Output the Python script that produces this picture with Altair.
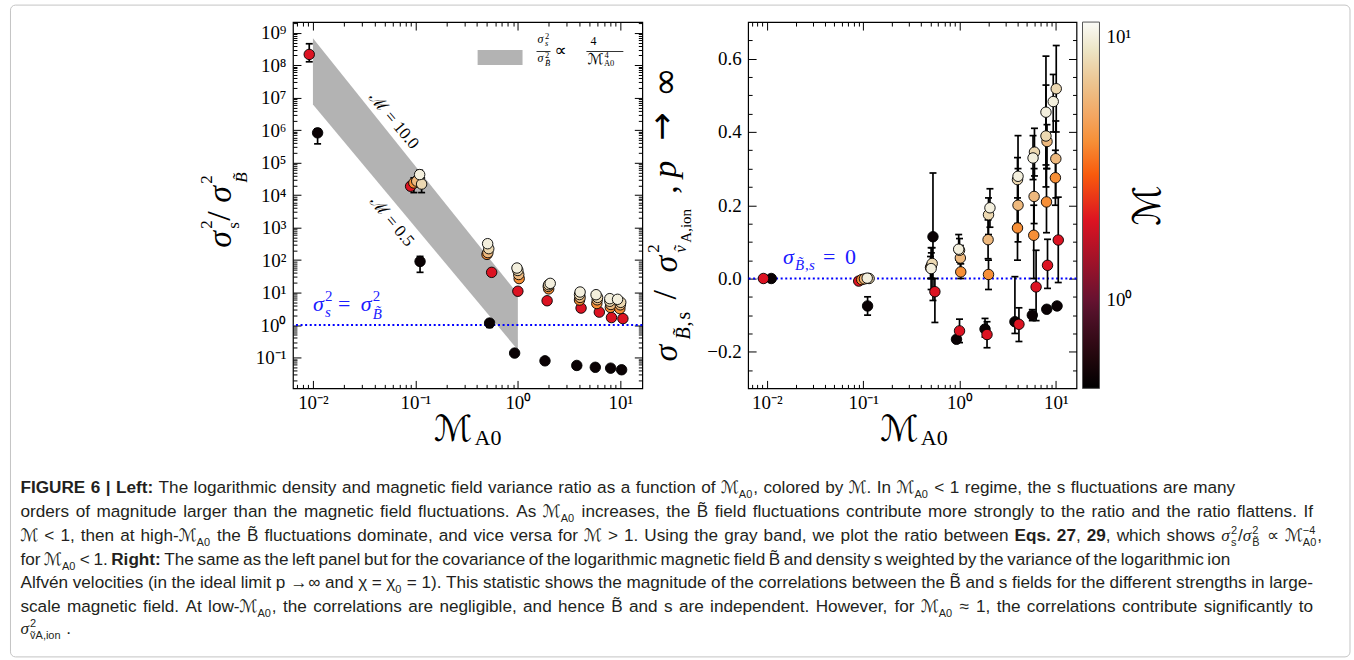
import altair as alt
import pandas as pd

SERIF = "Liberation Serif"
SCRIPT = "DejaVu Serif, DejaVu Sans"
SANS = "Liberation Sans"
BLUE = "#1a1aff"
INK = "#231f20"

# ---------------------------------------------------------------- data
# turbulent Mach number of each simulation series
mach = [0.5, 2, 4, 6, 8, 10]

# large-scale Alfven Mach number M_A0 of every point, one list per series
ma0_M05 = [0.0111, 0.111, 0.53, 0.93, 1.84, 3.76, 5.7, 8.05, 10.3]
ma0_M2 = [0.0092, 0.0898, 0.555, 1.0, 1.93, 4.14, 6.24, 8.2, 10.6]
ma0_M4 = [None, 0.0966, 0.50, 1.03, 2.0, 4.0, 5.9, 8.0, 9.9]
ma0_M6 = [None, 0.103, 0.51, 1.02, 1.98, 4.05, 5.95, 8.1, 10.0]
ma0_M8 = [None, 0.115, 0.52, 1.0, 2.0, 4.0, 6.0, 7.9, 10.1]
ma0_M10 = [None, 0.11, 0.507, 0.98, 2.07, 4.05, 5.8, 7.9, 9.4]

# left panel: sigma_s^2 / sigma_B^2
ratio_M05 = [8.3e5, 91, 1.15, 0.137, 0.079, 0.057, 0.050, 0.047, 0.042]
ratio_M2 = [2.16e8, 1.88e4, 42, 11, 5.6, 3.33, 2.5, 1.7, 1.58]
ratio_M4 = [None, 2.38e4, 150, 27, 13, 5.9, 4.6, 3.5, 3.2]
ratio_M6 = [None, 2.7e4, 170, 36, 15.5, 7.1, 6.0, 4.3, 4.2]
ratio_M8 = [None, 2.2e4, 225, 48, 17.5, 8.7, 7.1, 5.4, 5.0]
ratio_M10 = [None, 4.3e4, 320, 57, 19.2, 10.4, 8.6, 6.5, 6.2]
ratio_lo_M05 = [3.8e5, 42, 0.85, None, None, None, None, None, None]
ratio_hi_M05 = [1.1e6, 130, 1.45, None, None, None, None, None, None]
ratio_lo_M2 = [1.28e8, 1.5e4, None, None, None, None, None, None, None]
ratio_hi_M2 = [4.6e8, 2.4e4, None, None, None, None, None, None, None]
ratio_lo_M4 = [None, 1.2e4, None, None, None, None, None, None, None]
ratio_hi_M4 = [None, 3.4e4, None, None, None, None, None, None, None]
ratio_lo_M6 = [None, 1.8e4, None, None, None, None, None, None, None]
ratio_hi_M6 = [None, 3.6e4, None, None, None, None, None, None, None]
ratio_lo_M8 = [None, 1.2e4, None, None, None, None, None, None, None]
ratio_hi_M8 = [None, 3.4e4, None, None, None, None, None, None, None]
ratio_lo_M10 = [None, 3.0e4, None, None, None, None, None, None, None]
ratio_hi_M10 = [None, 5.8e4, None, None, None, None, None, None, None]

# right panel: sigma_{B,s} / sigma^2_{vA,ion}
cov_M05 = [0.0, -0.075, 0.114, -0.166, -0.138, -0.118, -0.1, -0.084, -0.075]
cov_lo_M05 = [None, -0.1, -0.06, -0.17, -0.16, -0.15, -0.115, -0.09, -0.08]
cov_hi_M05 = [None, -0.05, 0.288, -0.16, -0.109, 0.005, -0.085, -0.075, -0.07]
cov_M2 = [0.0, -0.007, -0.036, -0.143, -0.153, -0.125, -0.023, 0.036, 0.105]
cov_lo_M2 = [None, -0.012, -0.12, -0.175, -0.189, -0.172, -0.115, -0.027, -0.011]
cov_hi_M2 = [None, -0.002, 0.0, -0.111, -0.118, -0.08, 0.077, 0.107, 0.222]
cov_M4 = [None, -0.003, 0.03, 0.018, 0.011, 0.138, 0.118, 0.209, 0.275]
cov_lo_M4 = [None, None, 0.0, 0.0, -0.03, 0.05, 0.0, 0.125, 0.2]
cov_hi_M4 = [None, None, 0.06, 0.04, 0.05, 0.22, 0.2, 0.3, 0.35]
cov_M6 = [None, -0.001, 0.035, 0.056, 0.106, 0.2, 0.224, 0.374, 0.327]
cov_lo_M6 = [None, None, 0.0, 0.02, 0.054, 0.1, 0.15, 0.3, 0.22]
cov_hi_M6 = [None, None, 0.07, 0.09, 0.16, 0.3, 0.3, 0.42, 0.43]
cov_M8 = [None, 0.0, 0.041, 0.077, 0.174, 0.27, 0.345, 0.389, 0.518]
cov_lo_M8 = [None, None, 0.0, 0.045, 0.12, 0.15, 0.28, 0.25, 0.4]
cov_hi_M8 = [None, None, 0.084, 0.109, 0.22, 0.33, 0.41, 0.528, 0.636]
cov_M10 = [None, 0.001, 0.027, 0.08, 0.193, 0.279, 0.329, 0.454, 0.483]
cov_lo_M10 = [None, None, -0.03, 0.05, 0.14, 0.2, 0.27, 0.31, 0.4]
cov_hi_M10 = [None, None, 0.084, 0.12, 0.245, 0.39, 0.39, 0.607, 0.557]

# gray band sigma_s^2/sigma_B^2 ~ 4/M_A0^4 for M between 0.5 and 10
band_ma0 = [0.01, 1.0]
band_lo = [6.2e6, 0.17]
band_hi = [6.8e8, 9.0]

# colour map of the colour bar (M values and colours)
cmap_m = [0.46, 0.634, 0.875, 1.207, 1.665, 2.296, 2.98, 3.73, 4.97, 6.63, 8.85, 11.4]
cmap_c = ["#000000", "#28080f", "#4f1028", "#88163c", "#cc0e2c", "#e8161a",
          "#f85a0c", "#f7882a", "#f3a560", "#ecc38e", "#ece4c4", "#fbfbf7"]

# caption text (** toggles bold, _{..} subscript, ^{..} superscript)
caption_lines = [
    "**FIGURE 6 | Left:** The logarithmic density and magnetic field variance ratio as a function of "
    "ℳ_{A0}, colored by ℳ. In ℳ_{A0} < 1 regime, the s fluctuations are many",
    "orders of magnitude larger than the magnetic field fluctuations. As ℳ_{A0} increases, the B̃ field "
    "fluctuations contribute more strongly to the ratio and the ratio flattens. If",
    "ℳ < 1, then at high-ℳ_{A0} the B̃ fluctuations dominate, and vice versa for ℳ > 1. Using the gray "
    "band, we plot the ratio between **Eqs. 27**, **29**, which shows σ^{2}_{s}/σ^{2}_{B̃} ∝ ℳ^{−4}_{A0},",
    "for ℳ_{A0} < 1. **Right:** The same as the left panel but for the covariance of the logarithmic "
    "magnetic field B̃ and density s weighted by the variance of the logarithmic ion",
    "Alfvén velocities (in the ideal limit p → ∞ and χ = χ_{0} = 1). This statistic shows the magnitude "
    "of the correlations between the B̃ and s fields for the different strengths in large-",
    "scale magnetic field. At low-ℳ_{A0}, the correlations are negligible, and hence B̃ and s are "
    "independent. However, for ℳ_{A0} ≈ 1, the correlations contribute significantly to",
    "σ^{2}_{ṽA,ion} .",
]

# ---------------------------------------------------------------- tables
series = [
    (mach[0], ma0_M05, ratio_M05, ratio_lo_M05, ratio_hi_M05, cov_M05, cov_lo_M05, cov_hi_M05),
    (mach[1], ma0_M2, ratio_M2, ratio_lo_M2, ratio_hi_M2, cov_M2, cov_lo_M2, cov_hi_M2),
    (mach[2], ma0_M4, ratio_M4, ratio_lo_M4, ratio_hi_M4, cov_M4, cov_lo_M4, cov_hi_M4),
    (mach[3], ma0_M6, ratio_M6, ratio_lo_M6, ratio_hi_M6, cov_M6, cov_lo_M6, cov_hi_M6),
    (mach[4], ma0_M8, ratio_M8, ratio_lo_M8, ratio_hi_M8, cov_M8, cov_lo_M8, cov_hi_M8),
    (mach[5], ma0_M10, ratio_M10, ratio_lo_M10, ratio_hi_M10, cov_M10, cov_lo_M10, cov_hi_M10),
]
rows_l, rows_r = [], []
for m, xs_, r, rlo, rhi, c, clo, chi in series:
    for i, x in enumerate(xs_):
        if x is None:
            continue
        rows_l.append(dict(MA0=x, M=m, v=r[i],
                           lo=r[i] if rlo[i] is None else rlo[i],
                           hi=r[i] if rhi[i] is None else rhi[i]))
        rows_r.append(dict(MA0=x, M=m, v=c[i],
                           lo=c[i] if clo[i] is None else clo[i],
                           hi=c[i] if chi[i] is None else chi[i]))
dl = pd.DataFrame(rows_l).sort_values("M", kind="stable")
dr = pd.DataFrame(rows_r).sort_values("M", kind="stable")
dband = pd.DataFrame({"MA0": band_ma0, "lo": band_lo, "hi": band_hi})
one = pd.DataFrame({"k": [0]})

# ---------------------------------------------------------------- scales
XS = alt.Scale(type="log", domain=[0.00638, 16.4], nice=False)
YL = alt.Scale(type="log", domain=[0.0112, 2.14e9], nice=False)
YR = alt.Scale(type="linear", domain=[-0.3, 0.7], nice=False, zero=False)
CS = alt.Scale(type="log", domain=cmap_m, range=cmap_c, interpolate="rgb")

x_major = [0.01, 0.1, 1, 10]
x_minor = [k * 10.0 ** e for e in range(-3, 2) for k in range(2, 10)
           if 0.0064 < k * 10.0 ** e < 16.4]
yl_major = [10.0 ** e for e in range(-1, 10)]
yl_minor = [k * 10.0 ** e for e in range(-2, 10) for k in range(2, 10)
            if 0.0113 < k * 10.0 ** e < 2.1e9]
yr_major = [-0.2, 0.0, 0.2, 0.4, 0.6]
yr_minor = [-0.25, -0.15, -0.1, -0.05, 0.05, 0.1, 0.15, 0.25, 0.3, 0.35, 0.45, 0.5, 0.55, 0.65]

XEXPR = "['10⁻²','10⁻¹','10⁰','10¹'][round(log(datum.value)/LN10)+2]"
YEXPR = ("['10⁻¹','10⁰','10¹','10²','10³','10⁴','10⁵','10⁶','10⁷','10⁸','10⁹']"
         "[round(log(datum.value)/LN10)+1]")


def axis_layers(df, ys, ymaj, ymin, ylab):
    base = dict(domain=False, grid=False, title=None, tickColor="black", tickWidth=1)
    lab = dict(labelFont=SERIF, labelFontSize=19, labelColor="black", labelOverlap=False)

    def lay(xa, ya):
        return alt.Chart(df).mark_point(opacity=0).encode(
            x=alt.X("MA0:Q", scale=XS, axis=xa),
            y=alt.Y("v:Q", scale=ys, axis=ya))

    return [
        lay(alt.Axis(orient="bottom", values=x_major, tickSize=8, offset=-8, labelExpr=XEXPR,
                     labelBaseline="alphabetic", labelPadding=20, **base, **lab),
            alt.Axis(orient="left", values=ymaj, tickSize=8, offset=-8, labelPadding=7,
                     **ylab, **base, **lab)),
        lay(alt.Axis(orient="bottom", values=x_minor, tickSize=4, offset=-4, labels=False, **base),
            alt.Axis(orient="left", values=ymin, tickSize=4, offset=-4, labels=False, **base)),
        lay(alt.Axis(orient="top", values=x_major, tickSize=8, offset=-8, labels=False, **base),
            alt.Axis(orient="right", values=ymaj, tickSize=8, offset=-8, labels=False, **base)),
        lay(alt.Axis(orient="top", values=x_minor, tickSize=4, offset=-4, labels=False, **base),
            alt.Axis(orient="right", values=ymin, tickSize=4, offset=-4, labels=False, **base)),
    ]


def data_layers(df, ys, legend):
    X = alt.X("MA0:Q", scale=XS, axis=None)
    err = alt.Chart(df).mark_rule(color="black", strokeWidth=1.7).encode(
        x=X, y=alt.Y("lo:Q", scale=ys, axis=None), y2="hi:Q")
    cap_lo = alt.Chart(df).mark_tick(orient="horizontal", size=7, thickness=1.7,
                                     color="black", opacity=1).encode(
        x=X, y=alt.Y("lo:Q", scale=ys, axis=None))
    cap_hi = alt.Chart(df).mark_tick(orient="horizontal", size=7, thickness=1.7,
                                     color="black", opacity=1).encode(
        x=X, y=alt.Y("hi:Q", scale=ys, axis=None))
    pts = alt.Chart(df).mark_point(shape="circle", filled=True, size=110, stroke="black",
                                   strokeWidth=0.9, opacity=1).encode(
        x=X, y=alt.Y("v:Q", scale=ys, axis=None),
        fill=alt.Fill("M:Q", scale=CS, legend=legend))
    return [err, cap_lo, cap_hi, pts]


def T(s, x, y, size, origin, angle=0, italic=False, font=SERIF, color="black",
      align="left", baseline="alphabetic", bold=False):
    kw = dict(text=s, font=font, fontSize=size, color=color, align=align, baseline=baseline)
    if angle:
        kw["angle"] = angle
    if italic:
        kw["fontStyle"] = "italic"
    if bold:
        kw["fontWeight"] = "bold"
    return alt.Chart(one).mark_text(**kw).encode(
        x=alt.value(x - origin[0]), y=alt.value(y - origin[1]))


def R(x1, x2, y, origin, width=0.8, color="black"):
    return alt.Chart(one).mark_rule(color=color, strokeWidth=width).encode(
        x=alt.value(x1 - origin[0]), x2=alt.value(x2 - origin[0]), y=alt.value(y - origin[1]))


LO = (292, 20)
RO = (748, 20)

# ---------------------------------------------------------------- caption layout (Arial metrics)
AR = dict(zip(" !\"#$%&'()*+,-./0123456789:;<=>?",
              [278, 278, 355, 556, 556, 889, 667, 191, 333, 333, 389, 584, 278, 333, 278, 278]
              + [556] * 10 + [278, 278, 584, 584, 584, 556]))
AR.update(dict(zip("ABCDEFGHIJKLMNOPQRSTUVWXYZ",
                   [667, 667, 722, 722, 667, 611, 778, 722, 278, 500, 667, 556, 833, 722, 778,
                    667, 778, 722, 667, 611, 722, 667, 944, 667, 667, 611])))
AR.update(dict(zip("abcdefghijklmnopqrstuvwxyz",
                   [556, 556, 500, 556, 556, 278, 556, 556, 222, 222, 500, 222, 833, 556, 556,
                    556, 556, 333, 500, 278, 556, 500, 722, 500, 500, 500])))
AR.update({"é": 556, "→": 800, "∞": 713, "χ": 520, "≈": 584, "∝": 713, "−": 584,
           "\u0303": 0, "ṽ": 500, "|": 260})
AB = dict(AR)
AB.update(dict(zip("ERGFILUabcdefghijklmnopqrstuvwxyz:|",
                   [667, 722, 778, 611, 278, 611, 722, 556, 611, 556, 611, 556, 333, 611, 611,
                    278, 278, 556, 278, 889, 611, 611, 611, 611, 389, 556, 333, 611, 556, 778,
                    556, 556, 500, 333, 280])))

CF = 17.2
SF = 11.0


def cw(text, bold, size):
    tb = AB if bold else AR
    return sum(tb.get(ch, 556) for ch in text) * size / 1000.0


def parse_word(tok, state):
    pieces, cur, i = [], "", 0

    def flush(cur):
        if cur:
            pieces.append(("b" if state["bold"] else "n", cur))
        return ""

    while i < len(tok):
        if tok.startswith("**", i):
            cur = flush(cur)
            state["bold"] = not state["bold"]
            i += 2
            continue
        ch = tok[i]
        if ch in "_^" and i + 1 < len(tok) and tok[i + 1] == "{":
            cur = flush(cur)
            j = tok.index("}", i)
            pieces.append(("sub" if ch == "_" else "sup", tok[i + 2:j]))
            i = j + 1
            continue
        if ch in "ℳσ":
            cur = flush(cur)
            pieces.append(("scr" if ch == "ℳ" else "sig", ch))
            i += 1
            continue
        cur += ch
        i += 1
    flush(cur)
    return pieces


def piece_w(kind, text):
    if kind == "n":
        return cw(text, False, CF)
    if kind == "b":
        return cw(text, True, CF)
    if kind == "scr":
        return 1.04 * CF
    if kind == "sig":
        return 0.56 * CF
    return cw(text, False, SF) + 1


def layout_word(pieces):
    out, x, k = [], 0.0, 0
    while k < len(pieces):
        kind, text = pieces[k]
        if kind == "sup" and k + 1 < len(pieces) and pieces[k + 1][0] == "sub":
            w1, w2 = piece_w(*pieces[k]), piece_w(*pieces[k + 1])
            out.append((kind, text, x))
            out.append((pieces[k + 1][0], pieces[k + 1][1], x))
            x += max(w1, w2)
            k += 2
            continue
        out.append((kind, text, x))
        x += piece_w(kind, text)
        k += 1
    return out, x


cap_targets = [1236, 1314, 1323, 1231, 1314, 1314, None]
cap_base = [492, 516, 540, 564, 587, 611, 633]
cap_layers = [
    alt.Chart(one).mark_rect(filled=False, stroke="#c4c4c4", strokeWidth=1, cornerRadius=5).encode(
        x=alt.value(9 - LO[0]), x2=alt.value(1351 - LO[0]),
        y=alt.value(3 - LO[1]), y2=alt.value(656 - LO[1])),
]
state = {"bold": False}
for line, target, yb in zip(caption_lines, cap_targets, cap_base):
    words = [layout_word(parse_word(tok, state)) for tok in line.split(" ")]
    total = sum(w for _, w in words)
    gap = 0.278 * CF
    if target is not None and len(words) > 1:
        gap = (target - 19 - total) / (len(words) - 1)
    x0 = 19.0
    for pcs, w in words:
        for kind, text, dx in pcs:
            px = x0 + dx
            if kind in ("n", "b"):
                cap_layers.append(T(text, px, yb, CF, LO, font=SANS, bold=(kind == "b"), color=INK))
            elif kind == "scr":
                cap_layers.append(T(text, px, yb, CF, LO, font=SCRIPT, color=INK))
            elif kind == "sig":
                cap_layers.append(T(text, px, yb, CF, LO, italic=True, color=INK))
            elif kind == "sub":
                cap_layers.append(T(text, px, yb + 5, SF, LO, font=SANS, color=INK))
            else:
                cap_layers.append(T(text, px, yb - 7, SF, LO, font=SANS, color=INK))
        x0 += w + gap

# ---------------------------------------------------------------- left panel
band = alt.Chart(dband).mark_area(color="#b3b3b3", opacity=1).encode(
    x=alt.X("MA0:Q", scale=XS, axis=None),
    y=alt.Y("lo:Q", scale=YL, axis=None), y2="hi:Q")
blue_l = alt.Chart(pd.DataFrame({"v": [1.0]})).mark_rule(
    color="#0000ff", strokeWidth=2, strokeDash=[2, 2.6]).encode(
    y=alt.Y("v:Q", scale=YL, axis=None))

left_txt = [
    T("σ", 230, 246, 34, LO, 270, True),
    T("2", 211, 227, 17, LO, 270),
    T("s", 238, 227, 17, LO, 270),
    T("/", 229, 219, 34, LO, 270),
    T("σ", 230, 201, 34, LO, 270, True),
    T("2", 211, 182, 17, LO, 270),
    T("B̃", 246, 181, 17, LO, 270, True),
    T("ℳ", 433, 440, 36, LO, font=SCRIPT),
    T("A0", 474, 444, 22, LO),
    T("ℳ = 10.0", 393, 119, 17, LO, 50, align="center", baseline="middle"),
    T("ℳ = 0.5", 391, 220, 17, LO, 50, align="center", baseline="middle"),
    T("σ", 312, 309, 22, LO, italic=True, color=BLUE),
    T("2", 324, 299, 15, LO, color=BLUE),
    T("s", 324, 315, 15, LO, italic=True, color=BLUE),
    T("=", 337, 309, 22, LO, color=BLUE),
    T("σ", 360, 309, 22, LO, italic=True, color=BLUE),
    T("2", 372, 299, 15, LO, color=BLUE),
    T("B̃", 372, 317, 15, LO, italic=True, color=BLUE),
    alt.Chart(one).mark_rect(color="#b3b3b3").encode(
        x=alt.value(477 - LO[0]), x2=alt.value(522 - LO[0]),
        y=alt.value(48 - LO[1]), y2=alt.value(63 - LO[1])),
    T("σ", 537, 41, 12, LO, italic=True),
    T("2", 544.5, 36.5, 8.5, LO),
    T("s", 544.5, 44, 8.5, LO, italic=True),
    R(536, 550, 49.5, LO),
    T("σ", 537, 60, 12, LO, italic=True),
    T("2", 544.5, 55.5, 8.5, LO),
    T("B̃", 544.5, 64.5, 8.5, LO, italic=True),
    T("∝", 554, 54, 17, LO, font="DejaVu Sans"),
    T("4", 593, 43, 12, LO, align="center"),
    R(586, 623, 49.5, LO),
    T("ℳ", 587, 62, 15, LO, font=SCRIPT),
    T("4", 604, 56, 8.5, LO),
    T("A0", 603.5, 64.5, 8.5, LO),
]

left = alt.layer(
    *cap_layers,
    band, blue_l, *data_layers(dl, YL, None),
    *axis_layers(dl, YL, yl_major, yl_minor, dict(labelExpr=YEXPR)),
    *left_txt,
).resolve_axis(x="independent", y="independent").properties(
    width=350, height=367, view=alt.ViewBackground(stroke="black", strokeWidth=1.2))

# ---------------------------------------------------------------- right panel
blue_r = alt.Chart(pd.DataFrame({"v": [0.0]})).mark_rule(
    color="#0000ff", strokeWidth=2, strokeDash=[2, 2.6]).encode(
    y=alt.Y("v:Q", scale=YR, axis=None))

cbar = alt.Legend(orient="right", offset=5, padding=0, title=None, direction="vertical",
                  gradientLength=367, gradientThickness=17, gradientStrokeColor="#555555",
                  gradientStrokeWidth=1, values=[1, 10],
                  labelExpr="datum.value < 3 ? '10⁰' : '10¹'",
                  labelFont=SERIF, labelFontSize=19, labelColor="black", labelOffset=7)

right_txt = [
    T("σ", 677, 360, 34, RO, 270, True),
    T("B̃", 690, 338, 20, RO, 270, True),
    T(",", 690, 325, 20, RO, 270),
    T("s", 690, 318, 20, RO, 270),
    T("/", 676, 298, 34, RO, 270),
    T("σ", 677, 271, 34, RO, 270, True),
    T("2", 659, 251, 17, RO, 270),
    T("ṽ", 686, 251, 17, RO, 270, True),
    T("A,ion", 691, 241, 15, RO, 270),
    T(",", 677, 192, 34, RO, 270),
    T("p", 676, 176, 34, RO, 270, True),
    T("→", 673, 139, 34, RO, 270, font="DejaVu Sans"),
    T("∞", 677, 95, 36, RO, 270, font="DejaVu Sans"),
    T("ℳ", 880, 440, 36, RO, font=SCRIPT),
    T("A0", 921, 444, 22, RO),
    T("ℳ", 1150, 204, 38, RO, 270, font=SCRIPT, align="center", baseline="middle"),
    T("σ", 783, 262, 22, RO, italic=True, color=BLUE),
    T("B̃", 795, 268, 15, RO, italic=True, color=BLUE),
    T(",", 805, 268, 15, RO, color=BLUE),
    T("s", 809, 268, 15, RO, italic=True, color=BLUE),
    T("=", 823, 262, 22, RO, color=BLUE),
    T("0", 845, 262, 22, RO, color=BLUE),
]

right = alt.layer(
    blue_r, *data_layers(dr, YR, cbar),
    *axis_layers(dr, YR, yr_major, yr_minor, dict(format=".1f")),
    *right_txt,
).resolve_axis(x="independent", y="independent").properties(
    width=329, height=367, view=alt.ViewBackground(stroke="black", strokeWidth=1.2))

chart = alt.hconcat(left, right, spacing=106, bounds="flush").resolve_scale(
    fill="independent").properties(
    padding={"left": 8.5, "top": 2.5, "right": 2, "bottom": 1.5},
    background="white")

chart.save("out.html", embed_options={"renderer": "svg", "actions": False})
